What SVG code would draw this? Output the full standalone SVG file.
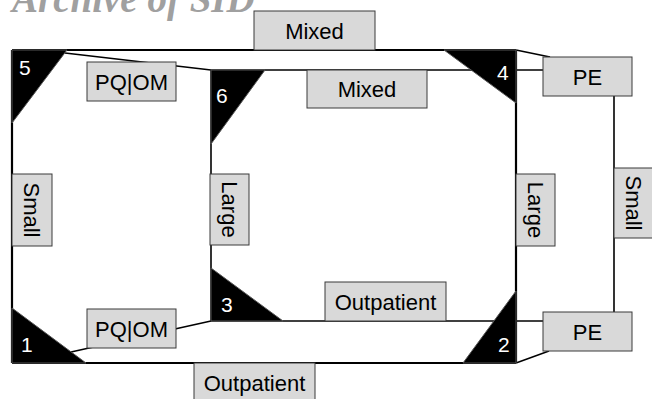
<svg xmlns="http://www.w3.org/2000/svg" width="652" height="399" viewBox="0 0 652 399">
<style>
.bg{fill:#ffffff}
.title{font-family:"Liberation Serif","Times New Roman",serif;font-style:italic;font-weight:bold;font-size:39px;fill:#a0a0a0}
.edge{stroke:#000;stroke-width:2.2;fill:none}
.edge2{stroke:#000;stroke-width:1.6;fill:none}
.box{fill:#d9d9d9;stroke:#3a3a3a;stroke-width:1}
.lbl{font-family:"Liberation Sans",Arial,sans-serif;font-size:22px;fill:#000;text-anchor:middle}
.tri{fill:#000;stroke:#555;stroke-width:1}
.num{font-family:"Liberation Sans",Arial,sans-serif;font-size:21px;fill:#fff}
</style>
<rect class="bg" x="0" y="0" width="652" height="399"/>
<text class="title" x="12" y="12">Archive of SID</text>

<g id="connectors">
  <line class="edge" x1="12" y1="50" x2="516" y2="50"/>
  <line class="edge" x1="12" y1="50" x2="12" y2="363"/>
  <line class="edge" x1="12" y1="363" x2="516" y2="363"/>
  <line class="edge" x1="516" y1="50" x2="516" y2="363"/>
  <line class="edge2" x1="211" y1="70" x2="543" y2="70"/>
  <line class="edge2" x1="211" y1="70" x2="211" y2="321"/>
  <line class="edge2" x1="211" y1="321" x2="543" y2="321"/>
  <line class="edge2" x1="65" y1="53" x2="211" y2="70"/>
  <line class="edge2" x1="71" y1="352" x2="211" y2="321"/>
  <line class="edge2" x1="516" y1="50" x2="550" y2="57"/>
  <line class="edge2" x1="516" y1="363" x2="549" y2="351"/>
  <line class="edge2" x1="614" y1="96" x2="614" y2="312"/>
</g>

<g id="node-5">
  <polygon class="tri" points="12,50 67,50 12,123"/>
  <text class="num" x="19" y="75">5</text>
</g>
<g id="node-6">
  <polygon class="tri" points="211,70 265,70 211,144"/>
  <text class="num" x="216" y="103">6</text>
</g>
<g id="node-4">
  <polygon class="tri" points="444,50 516,50 516,103"/>
  <text class="num" x="497" y="80">4</text>
</g>
<g id="node-3">
  <polygon class="tri" points="211,268 211,321 283,321"/>
  <text class="num" x="221" y="312">3</text>
</g>
<g id="node-1">
  <polygon class="tri" points="12,308 12,363 86,363"/>
  <text class="num" x="21" y="352">1</text>
</g>
<g id="node-2">
  <polygon class="tri" points="516,291 516,363 463,363"/>
  <text class="num" x="498" y="352">2</text>
</g>

<g id="label-mixed-outer">
  <rect class="box" x="254" y="11" width="121" height="39"/>
  <text class="lbl" x="314.5" y="38.5">Mixed</text>
</g>
<g id="label-pqom-top">
  <rect class="box" x="87" y="62" width="89" height="39"/>
  <text class="lbl" x="131.5" y="89.5">PQ|OM</text>
</g>
<g id="label-mixed-inner">
  <rect class="box" x="307" y="70" width="120" height="38"/>
  <text class="lbl" x="367" y="97">Mixed</text>
</g>
<g id="label-pe-top">
  <rect class="box" x="543" y="57" width="89" height="39"/>
  <text class="lbl" x="587.5" y="84.5">PE</text>
</g>
<g id="label-small-left">
  <rect class="box" x="12" y="174" width="40" height="72"/>
  <text class="lbl" transform="translate(32,210) rotate(90)" y="8">Small</text>
</g>
<g id="label-large-left">
  <rect class="box" x="210" y="174" width="39" height="71"/>
  <text class="lbl" transform="translate(229.5,209.5) rotate(90)" y="8">Large</text>
</g>
<g id="label-large-right">
  <rect class="box" x="516" y="174" width="39" height="72"/>
  <text class="lbl" transform="translate(535.5,210) rotate(90)" y="8">Large</text>
</g>
<g id="label-small-right">
  <rect class="box" x="614" y="168" width="39" height="70"/>
  <text class="lbl" transform="translate(633.5,203) rotate(90)" y="8">Small</text>
</g>
<g id="label-outpatient-inner">
  <rect class="box" x="325" y="282" width="121" height="39"/>
  <text class="lbl" x="385.5" y="309.5">Outpatient</text>
</g>
<g id="label-pqom-bottom">
  <rect class="box" x="87" y="309" width="89" height="39"/>
  <text class="lbl" x="131.5" y="336.5">PQ|OM</text>
</g>
<g id="label-pe-bottom">
  <rect class="box" x="543" y="312" width="89" height="39"/>
  <text class="lbl" x="587.5" y="339.5">PE</text>
</g>
<g id="label-outpatient-outer">
  <rect class="box" x="194" y="363" width="121" height="40"/>
  <text class="lbl" x="254.5" y="390.5">Outpatient</text>
</g>
</svg>
